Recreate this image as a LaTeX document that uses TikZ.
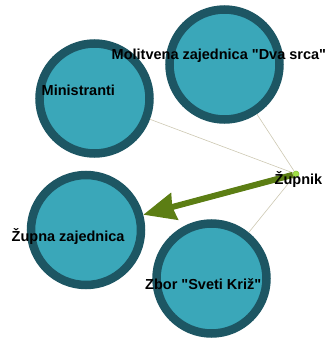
\documentclass[tikz,border=0pt]{standalone}
\usepackage{fontspec}
\setmainfont{Liberation Sans}
\usetikzlibrary{arrows.meta}

\definecolor{groupfill}{RGB}{58,167,185}
\definecolor{groupring}{RGB}{29,86,99}
\definecolor{leadgreen}{RGB}{92,126,20}
\definecolor{dotgreen}{RGB}{160,225,70}
\definecolor{thinedge}{RGB}{205,200,178}

\begin{document}
\begin{tikzpicture}[
  x=1pt, y=-1pt,
  group/.style={
    circle, draw=groupring, fill=groupfill, line width=8.5pt,
    minimum size=110pt, inner sep=0pt
  },
  leader/.style={circle, draw=dotgreen!70!leadgreen, fill=dotgreen,
    minimum size=6pt, inner sep=0pt, line width=0.6pt},
  lbl/.style={font=\fontsize{14.5}{16}\selectfont\bfseries, text=black,
    inner sep=0pt, anchor=base west},
  link/.style={draw=thinedge, line width=0.6pt},
  lead/.style={-{Stealth[length=32pt, width=27pt, inset=2pt]},
    draw=leadgreen, line width=6pt}
]
\useasboundingbox (0,0) rectangle (328,338);

% Groups
\node[group] (mini) at (94.5,98.5) {};
\node[group] (moli) at (224.5,64.5) {};
\node[group] (zupa) at (86,230) {};
\node[group] (zbor) at (211.5,278.5) {};

% Priest
\node[leader] (zupnik) at (296,174) {};

% Links
\draw[link] (zupnik) -- (mini);
\draw[link] (zupnik) -- (moli);
\draw[link] (zupnik) -- (zbor);
\draw[lead] (zupnik) -- (zupa);

% Labels
\node[lbl] (lmini) at (41.5,95) {Ministranti};
\node[lbl] (lmoli) at (111.5,59) {Molitvena zajednica \textquotedbl Dva srca\textquotedbl};
\node[lbl] (lzupa) at (11.5,241) {Župna zajednica};
\node[lbl] (lzbor) at (145,289) {Zbor \textquotedbl Sveti Križ\textquotedbl};
\node[lbl] (lzupnik) at (274.5,184) {Župnik};

\end{tikzpicture}
\end{document}
